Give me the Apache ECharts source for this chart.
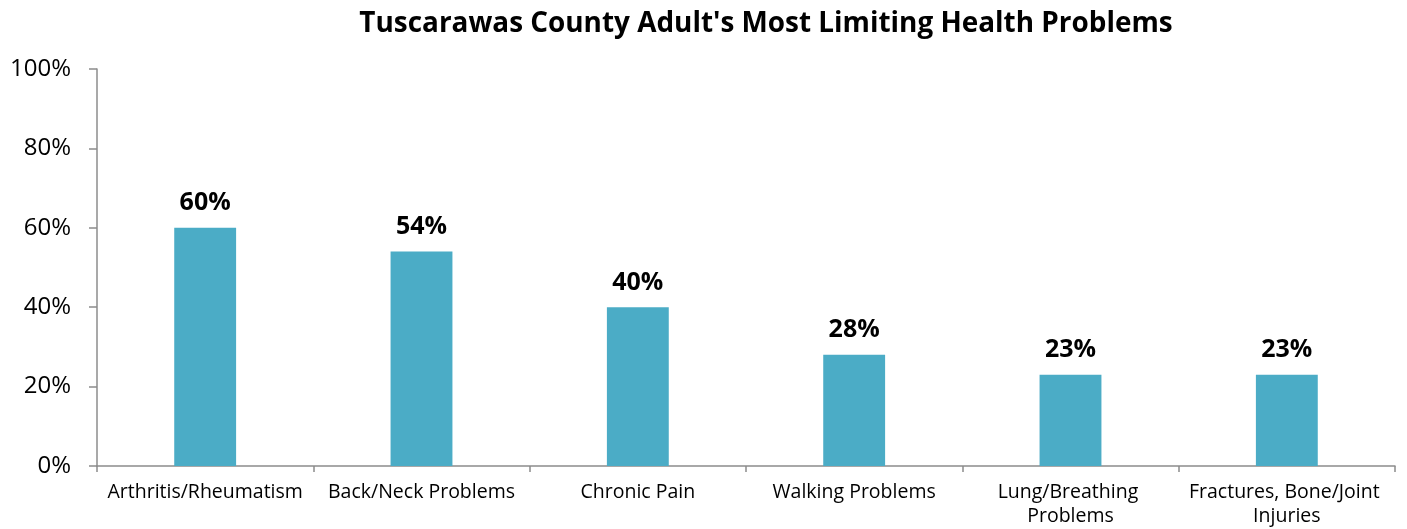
<!DOCTYPE html>
<html>
<head>
<meta charset="utf-8">
<script src="https://cdn.jsdelivr.net/npm/echarts@6/dist/echarts.min.js"></script>
<style>
  html, body { margin: 0; padding: 0; background: #fff; }
  #chart { width: 1407px; height: 529px; }
</style>
</head>
<body>
<div id="chart"></div>
<script>
// health problems and share of adults limited by them
const categories = [
  "Arthritis/Rheumatism",
  "Back/Neck Problems",
  "Chronic Pain",
  "Walking Problems",
  "Lung/Breathing Problems",
  "Fractures, Bone/Joint Injuries"
];
const values = [60, 54, 40, 28, 23, 23];
const yTicks = [0, 20, 40, 60, 80, 100];

const chart = echarts.init(document.getElementById("chart"));
const font = "'Open Sans', 'Noto Sans', sans-serif";
const axisGray = "#8c8c8c";

chart.setOption({
  animation: false,
  textStyle: { fontFamily: font },
  title: {
    text: "Tuscarawas County Adult's Most Limiting Health Problems",
    left: 761,
    top: 5,
    textAlign: "center",
    textStyle: { fontSize: 27.9, fontWeight: "bold", color: "#000", fontFamily: font }
  },
  grid: { left: 97, right: 12, top: 69, bottom: 63 },
  xAxis: {
    type: "category",
    data: categories,
    axisLine: { lineStyle: { color: axisGray, width: 1.5 } },
    axisTick: { show: true, length: 6, lineStyle: { color: axisGray, width: 1.5 } },
    axisLabel: {
      interval: 0,
      color: "#000",
      fontSize: 19.5,
      margin: 14,
      lineHeight: 24,
      width: 205,
      overflow: "break"
    }
  },
  yAxis: {
    type: "value",
    min: yTicks[0],
    max: yTicks[yTicks.length - 1],
    interval: 20,
    splitLine: { show: false },
    axisLine: { show: true, lineStyle: { color: axisGray, width: 1.5 } },
    axisTick: { show: true, length: 8, lineStyle: { color: axisGray, width: 1.5 } },
    axisLabel: {
      color: "#000",
      fontSize: 24,
      margin: 26,
      formatter: v => v + "%"
    }
  },
  series: [{
    type: "bar",
    data: values,
    barWidth: "28.6%",
    itemStyle: { color: "#4BACC6" },
    label: {
      show: true,
      position: "top",
      distance: 12,
      color: "#000",
      fontSize: 25,
      fontWeight: "bold",
      formatter: p => p.value + "%"
    }
  }]
});
</script>
</body>
</html>
